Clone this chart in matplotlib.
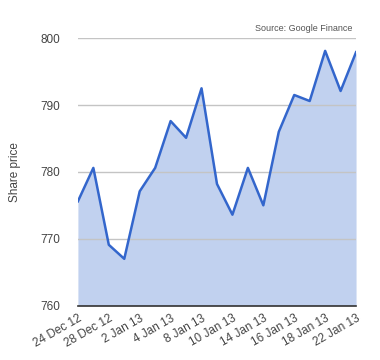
import numpy as np
import matplotlib.pyplot as plt

plt.rcParams['font.family'] = ['Liberation Sans', 'DejaVu Sans']

# share price, one value per trading day
prices = [775.6, 780.6, 769.1, 767.0, 777.1, 780.6, 787.6, 785.1, 792.5, 778.2,
          773.6, 780.6, 775.0, 786.0, 791.5, 790.6, 798.1, 792.1, 797.9]
tick_labels = ['24 Dec 12', '28 Dec 12', '2 Jan 13', '4 Jan 13', '8 Jan 13',
               '10 Jan 13', '14 Jan 13', '16 Jan 13', '18 Jan 13', '22 Jan 13']
y_ticks = [760, 770, 780, 790, 800]

x = np.arange(len(prices))

fig = plt.figure(figsize=(3.8, 3.6), dpi=100)
ax = fig.add_axes([0.205, 0.151, 0.732, 0.743])

ax.fill_between(x, prices, 760, color='#c1d1ef', linewidth=0, zorder=1)
ax.plot(x, prices, color='#3366cc', linewidth=1.8, zorder=3)

ax.set_xlim(0, len(prices) - 1)
ax.set_ylim(760, 800)
ax.set_yticks(y_ticks)
ax.set_xticks(x[::2])
ax.set_xticklabels(tick_labels, rotation=30, ha='right', rotation_mode='anchor')

ax.grid(axis='y', color='#c4c4c4', linewidth=1, zorder=2)
ax.set_axisbelow(False)
for s in ['top', 'right', 'left']:
    ax.spines[s].set_visible(False)
ax.spines['bottom'].set_color('#333333')
ax.spines['bottom'].set_linewidth(1.2)
ax.spines['bottom'].set_zorder(4)
ax.tick_params(length=0, labelsize=8.5, colors='#444444')
ax.tick_params(axis='y', pad=13)
ax.tick_params(axis='x', pad=5)

ax.set_ylabel('Share price', fontsize=8.5, color='#444444', labelpad=14)
fig.text(0.928, 0.922, 'Source: Google Finance', fontsize=6.5, color='#555555',
         ha='right', va='center')

plt.savefig('out.png', dpi=100)
